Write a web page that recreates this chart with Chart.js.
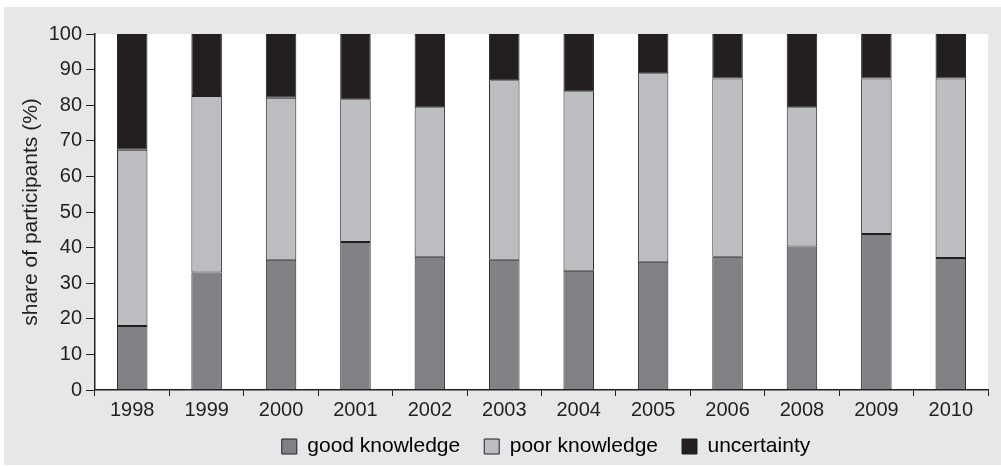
<!DOCTYPE html>
<html>
<head>
<meta charset="utf-8">
<script src="https://cdn.jsdelivr.net/npm/chart.js@4"></script>
<style>
  body { margin: 0; background: #ffffff; }
  .panel { position: absolute; left: 4px; top: 7px; width: 997px; height: 458px; background: #e6e7e8; }
</style>
</head>
<body>
<div class="panel"><canvas id="kunskapsDiagram" width="997" height="458"></canvas></div>
<script>
// Data
const years = ['1998', '1999', '2000', '2001', '2002', '2003', '2004', '2005', '2006', '2008', '2009', '2010'];
const goodKnowledge = [18, 33, 36.6, 41.6, 37.4, 36.6, 33.5, 36, 37.4, 40.3, 43.8, 37.1];
const poorKnowledge = [49.5, 49.6, 45.5, 40.1, 42, 50.4, 50.4, 53, 50.1, 39.1, 43.7, 50.4];
const uncertainty = [32.5, 17.4, 17.9, 18.3, 20.6, 13, 16.1, 11, 12.5, 20.6, 12.5, 12.5];
const yTicks = [0, 10, 20, 30, 40, 50, 60, 70, 80, 90, 100];

const textColor = '#231f20';
Chart.defaults.font.family = '"Liberation Sans", Arial, sans-serif';
Chart.defaults.color = textColor;

// fills the plot area white, the rest stays grey
const plotBackground = {
    id: 'plotBackground',
    beforeDraw(chart) {
        const a = chart.chartArea;
        chart.ctx.save();
        chart.ctx.fillStyle = '#ffffff';
        chart.ctx.fillRect(a.left, a.top, a.right - a.left, a.bottom - a.top);
        chart.ctx.restore();
    }
};

// moves the legend up closer to the year labels and centres it under the plot area
const legendLift = {
    id: 'legendLift',
    afterLayout(chart) {
        chart.legend.top -= 12;
        chart.legend.height += 12;
        chart.legend.left = chart.chartArea.left + 9;
        chart.legend.right = chart.chartArea.right;
    }
};

function serie(label, data, color) {
    return {
        label: label,
        data: data,
        backgroundColor: color,
        borderColor: textColor,
        borderWidth: 1,
        borderSkipped: false,
        categoryPercentage: 1,
        barPercentage: 0.41
    };
}

new Chart(document.getElementById('kunskapsDiagram').getContext('2d'), {
    type: 'bar',
    data: {
        labels: years,
        datasets: [
            serie('good knowledge', goodKnowledge, '#808184'),
            serie('poor knowledge', poorKnowledge, '#bcbdc0'),
            serie('uncertainty', uncertainty, '#231f20')
        ]
    },
    options: {
        responsive: false,
        animation: false,
        layout: { padding: { top: 27, right: 13, left: 0, bottom: 0 } },
        plugins: {
            tooltip: { enabled: false },
            legend: {
                position: 'bottom',
                maxHeight: 41,
                labels: {
                    boxWidth: 15,
                    boxHeight: 15,
                    padding: 24,
                    font: { size: 21 },
                    color: textColor,
                    generateLabels(chart) {
                        return chart.data.datasets.map((d, i) => ({
                            text: d.label,
                            fillStyle: d.backgroundColor,
                            strokeStyle: textColor,
                            lineWidth: 1,
                            datasetIndex: i
                        }));
                    }
                }
            }
        },
        scales: {
            x: {
                stacked: true,
                grid: { offset: true, drawOnChartArea: false, tickLength: 6, color: textColor },
                border: { color: textColor, width: 1.5 },
                ticks: { font: { size: 20 }, color: textColor, padding: 2 },
                afterFit(axis) { axis.height = 34; }
            },
            y: {
                stacked: true,
                min: 0,
                max: 100,
                afterBuildTicks(axis) { axis.ticks = yTicks.map(v => ({ value: v })); },
                grid: { drawOnChartArea: false, tickLength: 9, color: textColor },
                border: { color: textColor, width: 1.5 },
                ticks: { font: { size: 20 }, color: textColor, padding: 4 },
                title: {
                    display: true,
                    text: 'share of participants (%)',
                    font: { size: 21 },
                    color: textColor,
                    padding: { top: 15, bottom: 0 }
                },
                afterFit(axis) { axis.width = 91; }
            }
        }
    },
    plugins: [plotBackground, legendLift]
});
</script>
</body>
</html>
